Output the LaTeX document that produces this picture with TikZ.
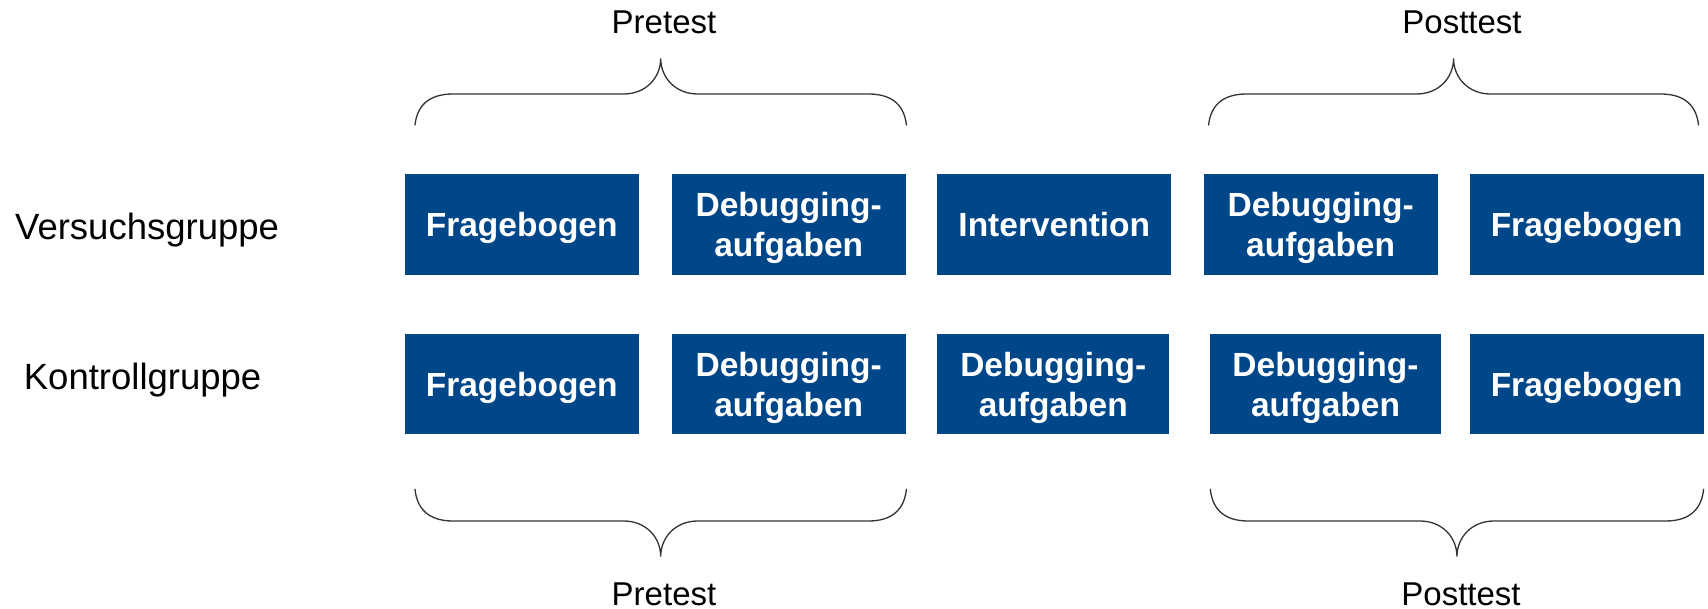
\documentclass[tikz,border=0pt]{standalone}
\usepackage{fontspec}
\setmainfont{Liberation Sans}
\definecolor{uniblue}{RGB}{0,71,137}
% two centred lines with a fixed baseline distance
\newcommand\zweizeilig[2]{\vbox{\baselineskip=40pt\halign{\hfil##\hfil\cr#1\cr#2\cr}}}
% curly brace: x left, x right, y of the ends, y of the straight part, y of the tip
\newcommand\klammer[5]{%
  \draw[brace] (#1,#3)
    .. controls ({#1+2},{#3+0.6*(#4-#3)}) and ({#1+13},#4) .. ({#1+38},#4)
    -- ({(#1+#2)/2-37},#4)
    .. controls ({(#1+#2)/2-15},#4) and ({(#1+#2)/2},{#4+0.45*(#5-#4)}) .. ({(#1+#2)/2},#5)
    .. controls ({(#1+#2)/2},{#4+0.45*(#5-#4)}) and ({(#1+#2)/2+15},#4) .. ({(#1+#2)/2+37},#4)
    -- ({#2-38},#4)
    .. controls ({#2-13},#4) and ({#2-2},{#3+0.6*(#4-#3)}) .. (#2,#3);}
\begin{document}
\begin{tikzpicture}[x=1pt,y=-1pt,
  box/.style={rectangle, fill=uniblue, inner sep=0pt, outer sep=0pt,
    minimum width=234pt, minimum height=101pt, text=white,
    font=\bfseries\fontsize{33.5}{40}\selectfont, text depth=0pt},
  group/.style={font=\fontsize{36.5}{44}\selectfont, anchor=base west, inner sep=0pt},
  phase/.style={font=\fontsize{33}{40}\selectfont, anchor=base, inner sep=0pt},
  brace/.style={draw=black!80, line width=1.3pt, line cap=round}]
\useasboundingbox (0,0) rectangle (1708,609);
\fill[white] (0,0) rectangle (1708,609);

% group labels
\node[group] (vg) at (15,239.3) {Versuchsgruppe};
\node[group] (kg) at (23.7,389.3) {Kontrollgruppe};

% experimental group
\node[box] (v1) at (521.7,224.7) {Fragebogen};
\node[box] (v2) at (788.7,224.7) {\zweizeilig{Debugging-}{aufgaben}};
\node[box] (v3) at (1054.3,224.7) {Intervention};
\node[box] (v4) at (1320.6,224.7) {\zweizeilig{Debugging-}{aufgaben}};
\node[box] (v5) at (1586.6,224.7) {Fragebogen};

% control group
\node[box, minimum height=100pt] (k1) at (521.7,384.3) {Fragebogen};
\node[box, minimum height=100pt] (k2) at (788.7,384.3) {\zweizeilig{Debugging-}{aufgaben}};
\node[box, minimum height=100pt, minimum width=232pt] (k3) at (1053.3,384.3) {\zweizeilig{Debugging-}{aufgaben}};
\node[box, minimum height=100pt, minimum width=231.7pt] (k4) at (1325.5,384.3) {\zweizeilig{Debugging-}{aufgaben}};
\node[box, minimum height=100pt] (k5) at (1586.6,384.3) {Fragebogen};

% braces
\klammer{415}{906.4}{125}{94}{58.3}
\klammer{1208.6}{1698.5}{125}{94}{58.3}
\klammer{415}{906.4}{489.3}{521}{556.7}
\klammer{1210.3}{1703.6}{489.3}{521}{556.7}

% phase labels
\node[phase] (pre1) at (664,33.3) {Pretest};
\node[phase] (post1) at (1462,33.3) {Posttest};
\node[phase] (pre2) at (664,605) {Pretest};
\node[phase] (post2) at (1461,605) {Posttest};
\end{tikzpicture}
\end{document}
